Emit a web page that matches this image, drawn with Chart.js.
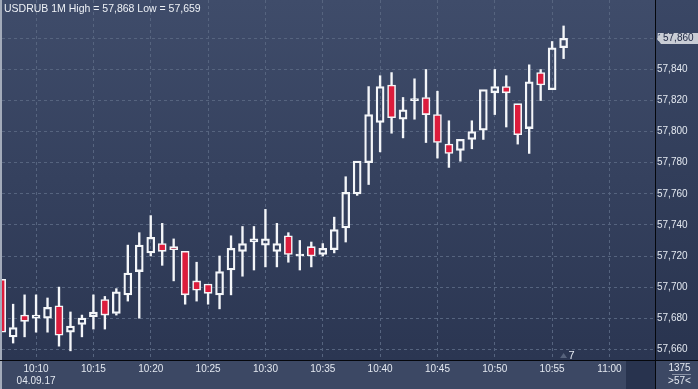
<!DOCTYPE html>
<html>
<head>
<meta charset="utf-8">
<script src="https://cdn.jsdelivr.net/npm/chart.js@4/dist/chart.umd.min.js"></script>
<style>
  html, body { margin: 0; padding: 0; background: #2b3652; }
  canvas { display: block; }
</style>
</head>
<body>
<canvas id="chartCandles" width="698" height="389"></canvas>
<script>
/* ============================================================
 * DATA — USDRUB 1M, 04.09.17
 * ============================================================ */

const symbol = "USDRUB 1M";
const dateLabel = "04.09.17";

const times = [
  "10:07", "10:08", "10:09", "10:10", "10:11", "10:12", "10:13", "10:14", "10:15", "10:16",
  "10:17", "10:18", "10:19", "10:20", "10:21", "10:22", "10:23", "10:24", "10:25", "10:26",
  "10:27", "10:28", "10:29", "10:30", "10:31", "10:32", "10:33", "10:34", "10:35", "10:36",
  "10:37", "10:38", "10:39", "10:40", "10:41", "10:42", "10:43", "10:44", "10:45", "10:46",
  "10:47", "10:48", "10:49", "10:50", "10:51", "10:52", "10:53", "10:54", "10:55", "10:56",
];

const opens = [
  57.705, 57.668, 57.682, 57.680, 57.680, 57.688, 57.671, 57.676, 57.681, 57.692,
  57.683, 57.695, 57.710, 57.722, 57.728, 57.726, 57.723, 57.704, 57.702, 57.695,
  57.711, 57.723, 57.729, 57.727, 57.723, 57.733, 57.720, 57.726, 57.721, 57.724,
  57.738, 57.760, 57.780, 57.806, 57.830, 57.808, 57.820, 57.822, 57.811, 57.792,
  57.788, 57.795, 57.801, 57.825, 57.829, 57.818, 57.802, 57.838, 57.827, 57.854,
];

const highs = [
  57.705, 57.689, 57.695, 57.695, 57.693, 57.700, 57.684, 57.682, 57.695, 57.694,
  57.699, 57.727, 57.735, 57.746, 57.741, 57.731, 57.723, 57.716, 57.702, 57.720,
  57.733, 57.739, 57.739, 57.750, 57.741, 57.735, 57.730, 57.729, 57.728, 57.745,
  57.771, 57.781, 57.829, 57.836, 57.838, 57.822, 57.834, 57.840, 57.826, 57.807,
  57.795, 57.807, 57.827, 57.840, 57.836, 57.818, 57.843, 57.840, 57.858, 57.868,
];

const lows = [
  57.671, 57.664, 57.668, 57.671, 57.671, 57.662, 57.659, 57.668, 57.673, 57.673,
  57.682, 57.691, 57.680, 57.720, 57.714, 57.704, 57.689, 57.691, 57.689, 57.686,
  57.695, 57.707, 57.711, 57.713, 57.713, 57.716, 57.711, 57.713, 57.720, 57.722,
  57.729, 57.759, 57.766, 57.787, 57.799, 57.796, 57.808, 57.793, 57.783, 57.777,
  57.781, 57.789, 57.795, 57.811, 57.803, 57.792, 57.786, 57.820, 57.827, 57.847,
];

const closes = [
  57.671, 57.674, 57.678, 57.682, 57.687, 57.669, 57.675, 57.680, 57.684, 57.682,
  57.697, 57.709, 57.727, 57.732, 57.723, 57.724, 57.695, 57.698, 57.696, 57.710,
  57.725, 57.728, 57.731, 57.731, 57.728, 57.721, 57.720, 57.720, 57.725, 57.737,
  57.761, 57.781, 57.811, 57.829, 57.809, 57.814, 57.820, 57.811, 57.793, 57.786,
  57.795, 57.800, 57.827, 57.829, 57.825, 57.798, 57.832, 57.830, 57.854, 57.860,
];

// axis ticks (x = minutes after 10:00)
const xTickMinutes = [10, 15, 20, 25, 30, 35, 40, 45, 50, 55, 60];
const xTickLabels = ["10:10", "10:15", "10:20", "10:25", "10:30", "10:35", "10:40", "10:45", "10:50", "10:55", "11:00"];
const yTicks = [57.66, 57.68, 57.70, 57.72, 57.74, 57.76, 57.78, 57.80, 57.82, 57.84, 57.86];

// footer bits of the terminal
const barsRightCount = "7";
const cornerTop = "1375";
const cornerBottom = ">57<";

/* ============================================================
 * Styling
 * ============================================================ */

const FONT = '"Liberation Sans", Arial, sans-serif';
const TEXT = "#e3e8f0";
const RED = "#dc1c3c";
const WHITE = "#f4f6f9";
const GRID = "#56647f";

/* ============================================================
 * Helpers
 * ============================================================ */

function toMinutes(t) {
  const [h, m] = t.split(":").map(Number);
  return (h - 10) * 60 + m;
}

function fmtPrice(v) {
  return Number(v).toFixed(3).replace(".", ",");
}

const xs = times.map(toMinutes);

const bodies = xs.map((x, i) => ({ x, y: [opens[i], closes[i]] }));
const bodyFill = closes.map((c, i) => (c >= opens[i] ? "rgba(0,0,0,0)" : RED));

const wicks = [];
xs.forEach((x, i) => {
  const top = Math.max(opens[i], closes[i]);
  const bot = Math.min(opens[i], closes[i]);
  if (highs[i] > top) wicks.push({ x, y: [top, highs[i]] });
  if (lows[i] < bot) wicks.push({ x, y: [lows[i], bot] });
});

/* ============================================================
 * Frame plugin: panels, title, price tag
 * ============================================================ */

const terminalFrame = {
  id: "terminalFrame",
  beforeDraw(chart) {
    const { ctx, chartArea: a, width, height } = chart;
    ctx.save();

    let g = ctx.createLinearGradient(0, 0, 0, a.bottom);
    g.addColorStop(0, "#3f4c6a");
    g.addColorStop(1, "#2b3652");
    ctx.fillStyle = g;
    ctx.fillRect(0, 0, a.right, a.bottom);

    g = ctx.createLinearGradient(0, 0, 0, a.bottom);
    g.addColorStop(0, "#3a4765");
    g.addColorStop(1, "#29344f");
    ctx.fillStyle = g;
    ctx.fillRect(a.right, 0, width - a.right, a.bottom);

    ctx.fillStyle = "#3c4864";
    ctx.fillRect(0, a.bottom, width, height - a.bottom);

    ctx.fillStyle = "#28334e";
    ctx.fillRect(a.right - 29, a.bottom, 29, height - a.bottom);

    ctx.fillStyle = "#a3abba";
    ctx.fillRect(0, 0, 2, height);

    ctx.restore();
  },
  afterDraw(chart) {
    const { ctx, chartArea: a, width, height, scales } = chart;
    ctx.save();

    // separators
    ctx.strokeStyle = "#05070c";
    ctx.lineWidth = 1;
    ctx.beginPath();
    ctx.moveTo(a.right + 0.5, 0);
    ctx.lineTo(a.right + 0.5, height);
    ctx.moveTo(0, a.bottom + 0.5);
    ctx.lineTo(width, a.bottom + 0.5);
    ctx.stroke();

    // title
    const hi = Math.max(...highs);
    const lo = Math.min(...lows);
    ctx.font = "10.5px " + FONT;
    ctx.fillStyle = "#eef1f6";
    ctx.textBaseline = "alphabetic";
    ctx.textAlign = "left";
    ctx.fillText(`${symbol} High = ${fmtPrice(hi)} Low = ${fmtPrice(lo)}`, 4, 12);

    // last price tag
    const last = closes[closes.length - 1];
    const py = Math.round(scales.y.getPixelForValue(last)) + 0.5;
    ctx.fillStyle = "#c9cdd5";
    ctx.beginPath();
    ctx.moveTo(a.right + 2, py);
    ctx.lineTo(a.right + 6, py - 5.5);
    ctx.lineTo(width, py - 5.5);
    ctx.lineTo(width, py + 5.5);
    ctx.lineTo(a.right + 6, py + 5.5);
    ctx.closePath();
    ctx.fill();
    ctx.font = "10px " + FONT;
    ctx.fillStyle = "#1b2440";
    ctx.textBaseline = "middle";
    ctx.fillText(fmtPrice(last), a.right + 8, py);

    // bars-to-the-right marker
    const mx = scales.x.getPixelForValue(xs[xs.length - 1]);
    ctx.fillStyle = "#56627b";
    ctx.beginPath();
    ctx.moveTo(mx - 3.5, a.bottom - 2);
    ctx.lineTo(mx + 3.5, a.bottom - 2);
    ctx.lineTo(mx, a.bottom - 7);
    ctx.closePath();
    ctx.fill();
    ctx.fillStyle = TEXT;
    ctx.font = "11px " + FONT;
    ctx.textBaseline = "alphabetic";
    ctx.fillText(barsRightCount, mx + 5, a.bottom - 1);

    // corner box
    const cx = (a.right + width) / 2 + 3;
    ctx.font = "10px " + FONT;
    ctx.textAlign = "center";
    ctx.textBaseline = "middle";
    ctx.fillText(cornerTop, cx, a.bottom + 8);
    ctx.fillText(cornerBottom, cx, a.bottom + 21);
    ctx.strokeStyle = "#8a93a6";
    ctx.beginPath();
    ctx.moveTo(a.right + 17, a.bottom + 14.5);
    ctx.lineTo(a.right + 36, a.bottom + 14.5);
    ctx.stroke();

    ctx.restore();
  },
};

/* ============================================================
 * Chart
 * ============================================================ */

const canvas = document.getElementById("chartCandles");
const ctx = canvas.getContext("2d");

new Chart(ctx, {
  type: "bar",
  data: {
    datasets: [
      {
        label: "body",
        data: bodies,
        grouped: false,
        barThickness: 8,
        minBarLength: 2,
        backgroundColor: bodyFill,
        borderColor: WHITE,
        borderWidth: 1.6,
        borderSkipped: false,
      },
      {
        label: "wick",
        data: wicks,
        grouped: false,
        barThickness: 1.7,
        backgroundColor: WHITE,
        borderWidth: 0,
      },
    ],
  },
  options: {
    responsive: false,
    animation: false,
    devicePixelRatio: 1,
    events: [],
    layout: { padding: { left: 2, top: 0, right: 0, bottom: 0 } },
    plugins: { legend: { display: false }, tooltip: { enabled: false } },
    scales: {
      x: {
        type: "linear",
        min: 7.03,
        max: 63.97,
        offset: false,
        position: "bottom",
        afterBuildTicks: (s) => { s.ticks = xTickMinutes.map((v) => ({ value: v })); },
        afterFit: (s) => { s.height = 29; s.paddingLeft = 0; s.paddingRight = 0; },
        grid: { color: GRID, lineWidth: 1, offset: false, drawTicks: false },
        border: { display: false, dash: [3, 3] },
        ticks: {
          color: TEXT,
          font: { family: FONT, size: 10 },
          padding: 3,
          autoSkip: false,
          maxRotation: 0,
          callback: (v, i) => (i === 0 ? [xTickLabels[i], dateLabel] : xTickLabels[i]),
        },
      },
      y: {
        type: "linear",
        position: "right",
        min: 57.6531,
        max: 57.8847,
        beginAtZero: false,
        afterBuildTicks: (s) => { s.ticks = yTicks.map((v) => ({ value: v })); },
        afterFit: (s) => { s.width = 43; s.paddingTop = 0; s.paddingBottom = 0; },
        grid: { color: GRID, lineWidth: 1, drawTicks: false },
        border: { display: false, dash: [3, 3] },
        ticks: {
          color: TEXT,
          font: { family: FONT, size: 10 },
          padding: 2,
          callback: (v) => fmtPrice(v),
        },
      },
    },
  },
  plugins: [terminalFrame],
});
</script>
</body>
</html>
